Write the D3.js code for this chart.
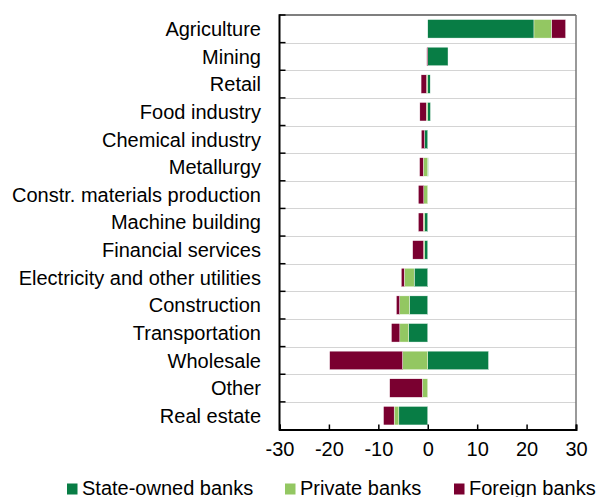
<!DOCTYPE html>
<html>
<head>
<meta charset="utf-8">
<title>Bank lending by sector</title>
<script src="https://d3js.org/d3.v7.min.js"></script>
<style>
  body { margin: 0; background: white; }
  svg { display: block; font-family: "Liberation Sans", Arial, sans-serif; }
  .grid line { stroke: #d4d4d4; stroke-width: 1; }
  .lbl { font-size: 20px; fill: #000; }
</style>
</head>
<body>
<div id="chart"></div>
<script>
// sectors, top to bottom
var sectors = ["Agriculture", "Mining", "Retail", "Food industry", "Chemical industry",
  "Metallurgy", "Constr. materials production", "Machine building", "Financial services",
  "Electricity and other utilities", "Construction", "Transportation", "Wholesale",
  "Other", "Real estate"];

// values
var stateOwned = [21.5, 4.1, 0.5, 0.55, -0.65, 0.1, 0, -0.6, -0.6, -2.75, -3.7, -3.85, 12.3, 0, -5.85];
var privateBanks = [3.6, 0, -0.25, -0.3, 0, -0.9, -0.8, -0.3, -0.25, -2.0, -2.0, -1.8, -5.1, -1.1, -0.95];
var foreignBanks = [2.8, -0.2, -1.1, -1.3, -0.65, -0.75, -1.1, -1.0, -2.2, -0.6, -0.65, -1.7, -14.75, -6.6, -2.15];

var seriesNames = ["State-owned banks", "Private banks", "Foreign banks"];
var xTicks = [-30, -20, -10, 0, 10, 20, 30];
var colors = ["#087d45", "#93c762", "#7a0030"];

var W = 596, H = 497;
var pLeft = 279.5, pRight = 576, pTop = 15, pBottom = 429.5;

var rows = sectors.map(function(s, i) {
  return { sector: s, s0: stateOwned[i], s1: privateBanks[i], s2: foreignBanks[i] };
});

var stack = d3.stack().keys(["s0", "s1", "s2"]).offset(d3.stackOffsetDiverging);
var layers = stack(rows);

var x = d3.scaleLinear().domain([-30, 30]).range([pLeft, pRight]);
var y = d3.scaleBand().domain(sectors).range([pTop, pBottom]).paddingInner(0.33).paddingOuter(0.165);
var yb = d3.scaleBand().domain(sectors).range([pTop, pBottom]); // full bands for grid

var svg = d3.select("#chart").append("svg").attr("width", W).attr("height", H);

// grid lines between categories
svg.append("g").attr("class", "grid")
  .selectAll("line").data(sectors.slice(1)).join("line")
  .attr("x1", pLeft).attr("x2", pRight)
  .attr("y1", function(d) { return Math.round(yb(d)) + 0.5; })
  .attr("y2", function(d) { return Math.round(yb(d)) + 0.5; });

// frame top and right
svg.append("line").attr("x1", pLeft).attr("x2", pRight).attr("y1", pTop).attr("y2", pTop)
  .attr("stroke", "#555").attr("stroke-width", 1.5);
svg.append("line").attr("x1", pRight).attr("x2", pRight).attr("y1", pTop).attr("y2", pBottom)
  .attr("stroke", "#777").attr("stroke-width", 1.5);

// bars
svg.append("g").selectAll("g").data(layers).join("g")
  .attr("fill", function(d, i) { return colors[i]; })
  .selectAll("rect").data(function(d) { return d; }).join("rect")
  .attr("x", function(d) { return x(Math.min(d[0], d[1])); })
  .attr("width", function(d) { return Math.abs(x(d[1]) - x(d[0])); })
  .attr("y", function(d) { return y(d.data.sector); })
  .attr("height", y.bandwidth())
  .attr("stroke", "white").attr("stroke-width", 0.4);

// bottom axis, ticks pointing in
var xAxis = svg.append("g").attr("transform", "translate(0," + pBottom + ")")
  .call(d3.axisBottom(x).tickValues(xTicks).tickSize(-5).tickPadding(12)
    .tickFormat(function(d) { return String(d); }));
xAxis.select(".domain").attr("stroke", "#000").attr("stroke-width", 2);
xAxis.selectAll(".tick line").attr("stroke", "#000").attr("stroke-width", 1.5);
xAxis.selectAll(".tick text").attr("class", "lbl").attr("dy", "0.71em");
xAxis.attr("font-family", null).attr("font-size", null);

// left axis: ticks at category boundaries, labels centred on bands
var bounds = sectors.map(function(s) { return yb(s); });
svg.append("g").selectAll("line").data(bounds).join("line")
  .attr("x1", pLeft).attr("x2", pLeft + 6)
  .attr("y1", function(d) { return d; }).attr("y2", function(d) { return d; })
  .attr("stroke", "#000").attr("stroke-width", 1.5);
svg.append("line").attr("x1", pLeft).attr("x2", pLeft).attr("y1", pTop - 0.75).attr("y2", pBottom + 1)
  .attr("stroke", "#000").attr("stroke-width", 2);

svg.append("g").selectAll("text").data(sectors).join("text")
  .attr("class", "lbl")
  .attr("x", 261)
  .attr("y", function(d) { return yb(d) + yb.bandwidth() / 2; })
  .attr("dy", "0.36em")
  .attr("text-anchor", "end")
  .text(function(d) { return d; });

// legend
var legendX = [67, 285, 454];
var lg = svg.append("g").selectAll("g").data(seriesNames).join("g")
  .attr("transform", function(d, i) { return "translate(" + legendX[i] + ",0)"; });
lg.append("rect").attr("x", 0).attr("y", 483.5).attr("width", 10.5).attr("height", 11)
  .attr("fill", function(d, i) { return colors[i]; });
lg.append("text").attr("class", "lbl").attr("x", 15).attr("y", 494.5)
  .text(function(d) { return d; });
</script>
</body>
</html>
